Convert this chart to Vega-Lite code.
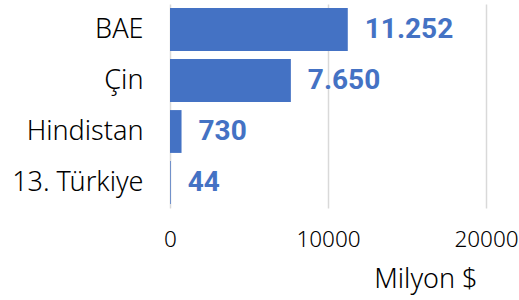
{
  "$schema": "https://vega.github.io/schema/vega-lite/v6.json",
  "width": 316,
  "height": 204,
  "autosize": {"type": "none"},
  "padding": {"left": 170, "top": 4, "right": 33, "bottom": 92},
  "background": "white",
  "data": {
    "values": [
      {"country": "BAE", "value": 11252, "label": "11.252"},
      {"country": "Çin", "value": 7650, "label": "7.650"},
      {"country": "Hindistan", "value": 730, "label": "730"},
      {"country": "13. Türkiye", "value": 44, "label": "44"}
    ]
  },
  "encoding": {
    "y": {
      "field": "country",
      "type": "nominal",
      "sort": null,
      "scale": {"paddingInner": 0.16, "paddingOuter": 0.08},
      "axis": {
        "title": null,
        "domain": false,
        "ticks": false,
        "labelFont": "Noto Sans",
        "labelFontSize": 27,
        "labelFontWeight": 300,
        "labelColor": "#000000",
        "labelPadding": 27,
        "grid": false
      }
    },
    "x": {
      "field": "value",
      "type": "quantitative",
      "scale": {"domain": [0, 20000], "nice": false},
      "axis": {
        "values": [0, 10000, 20000],
        "format": "d",
        "title": "Milyon $",
        "titleFont": "Noto Sans",
        "titleFontSize": 27,
        "titleFontWeight": 300,
        "titleColor": "#000000",
        "titleAlign": "right",
        "titleBaseline": "middle",
        "titleX": 307,
        "titleY": 71,
        "domain": false,
        "ticks": false,
        "labelFont": "Noto Sans",
        "labelFontSize": 22.5,
        "labelFontWeight": 300,
        "labelColor": "#000000",
        "labelPadding": 20,
        "labelFlush": false,
        "labelOverlap": false,
        "grid": true,
        "gridColor": "#d9d9d9",
        "gridWidth": 1.5
      }
    }
  },
  "layer": [
    {"mark": {"type": "bar", "color": "#4472C4"}},
    {
      "mark": {
        "type": "text",
        "align": "left",
        "baseline": "middle",
        "dx": 17,
        "font": "Roboto",
        "fontWeight": "bold",
        "fontSize": 28,
        "color": "#4472C4"
      },
      "encoding": {"text": {"field": "label"}}
    }
  ],
  "config": {"view": {"stroke": null}}
}
